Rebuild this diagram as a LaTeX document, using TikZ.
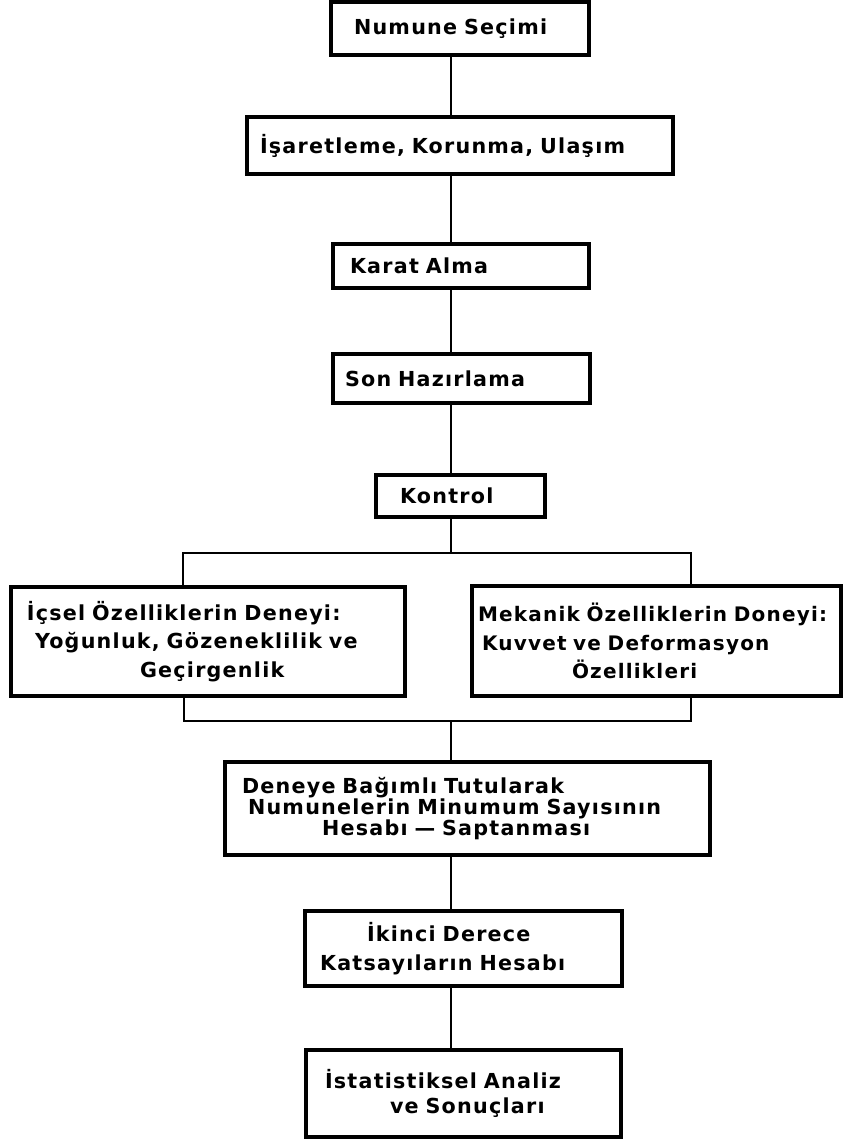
\documentclass[tikz,border=0pt]{standalone}
\usepackage{fontspec}
\newfontfamily\lt[LetterSpace=6,WordSpace=2.3]{DejaVu Sans}
\newlength\pxu \setlength\pxu{0.75pt}
\newcommand\ind[1]{\hspace*{#1\pxu}}
\begin{document}
\begin{tikzpicture}[x=0.75pt,y=-0.75pt,
  box/.style={draw,line width=2.6pt,rectangle,anchor=north west,outer sep=0pt,
    inner xsep=3pt,inner ysep=0pt,align=left,
    font=\lt\bfseries\fontsize{15.5}{21.4}\selectfont},
  conn/.style={line width=1.9pt}]
\useasboundingbox (0,0) rectangle (844,1139);
\node[box,minimum width=256\pxu,minimum height=53\pxu,text width=250\pxu] (n1) at (331,2) {\ind{19}Numune Seçimi};
\node[box,minimum width=424\pxu,minimum height=57\pxu,text width=418\pxu] (n2) at (247,117) {\ind{9}İşaretleme, Korunma, Ulaşım};
\node[box,minimum width=254\pxu,minimum height=44\pxu,text width=248\pxu] (n3) at (333,244) {\ind{13}Karat Alma};
\node[box,minimum width=255\pxu,minimum height=49\pxu,text width=249\pxu] (n4) at (333,354) {\ind{8}Son Hazırlama};
\node[box,minimum width=167\pxu,minimum height=42\pxu,text width=161\pxu] (n5) at (376,475) {\ind{20}Kontrol};
\node[box,minimum width=392\pxu,minimum height=109\pxu,text width=386\pxu] (n6) at (11,587)
  {\ind{12}İçsel Özelliklerin Deneyi:\\\ind{20}Yoğunluk, Gözeneklilik ve\\\ind{125}Geçirgenlik};
\node[box,minimum width=367\pxu,minimum height=110\pxu,text width=361\pxu,
  font=\lt\bfseries\fontsize{15}{21.4}\selectfont] (n7) at (472,586)
  {\ind{2}Mekanik Özelliklerin Doneyi:\\\ind{6}Kuvvet ve Deformasyon\\\ind{96}Özellikleri};
\node[box,minimum width=483\pxu,minimum height=93\pxu,text width=477\pxu,
  font=\lt\bfseries\fontsize{15.5}{15.8}\selectfont] (n8) at (225,762)
  {\ind{13}Deneye Bağımlı Tutularak\\\ind{19}Numunelerin Minumum Sayısının\\\ind{93}Hesabı — Saptanması};
\node[box,minimum width=315\pxu,minimum height=75\pxu,text width=309\pxu] (n9) at (305,911)
  {\ind{58}İkinci Derece\\\ind{11}Katsayıların Hesabı};
\node[box,minimum width=313\pxu,minimum height=87\pxu,text width=307\pxu,
  font=\lt\bfseries\fontsize{15.5}{19}\selectfont] (n10) at (306,1050)
  {\ind{15}İstatistiksel Analiz\\\ind{80}ve Sonuçları};
\coordinate (sp) at (451,0);
\coordinate (bl) at (183,553);
\coordinate (br) at (691,553);
\coordinate (jl) at (184,721);
\coordinate (jr) at (691,721);
\draw[conn] (n1.south -| sp) -- (n2.north -| sp);
\draw[conn] (n2.south -| sp) -- (n3.north -| sp);
\draw[conn] (n3.south -| sp) -- (n4.north -| sp);
\draw[conn] (n4.south -| sp) -- (n5.north -| sp);
\draw[conn] (n5.south -| sp) -- (sp |- bl);
\draw[conn] (n6.north -| bl) -- (bl) -- (br) -- (n7.north -| br);
\draw[conn] (n6.south -| jl) -- (jl) -- (jr) -- (n7.south -| jr);
\draw[conn] (sp |- jl) -- (n8.north -| sp);
\draw[conn] (n8.south -| sp) -- (n9.north -| sp);
\draw[conn] (n9.south -| sp) -- (n10.north -| sp);
\end{tikzpicture}
\end{document}
